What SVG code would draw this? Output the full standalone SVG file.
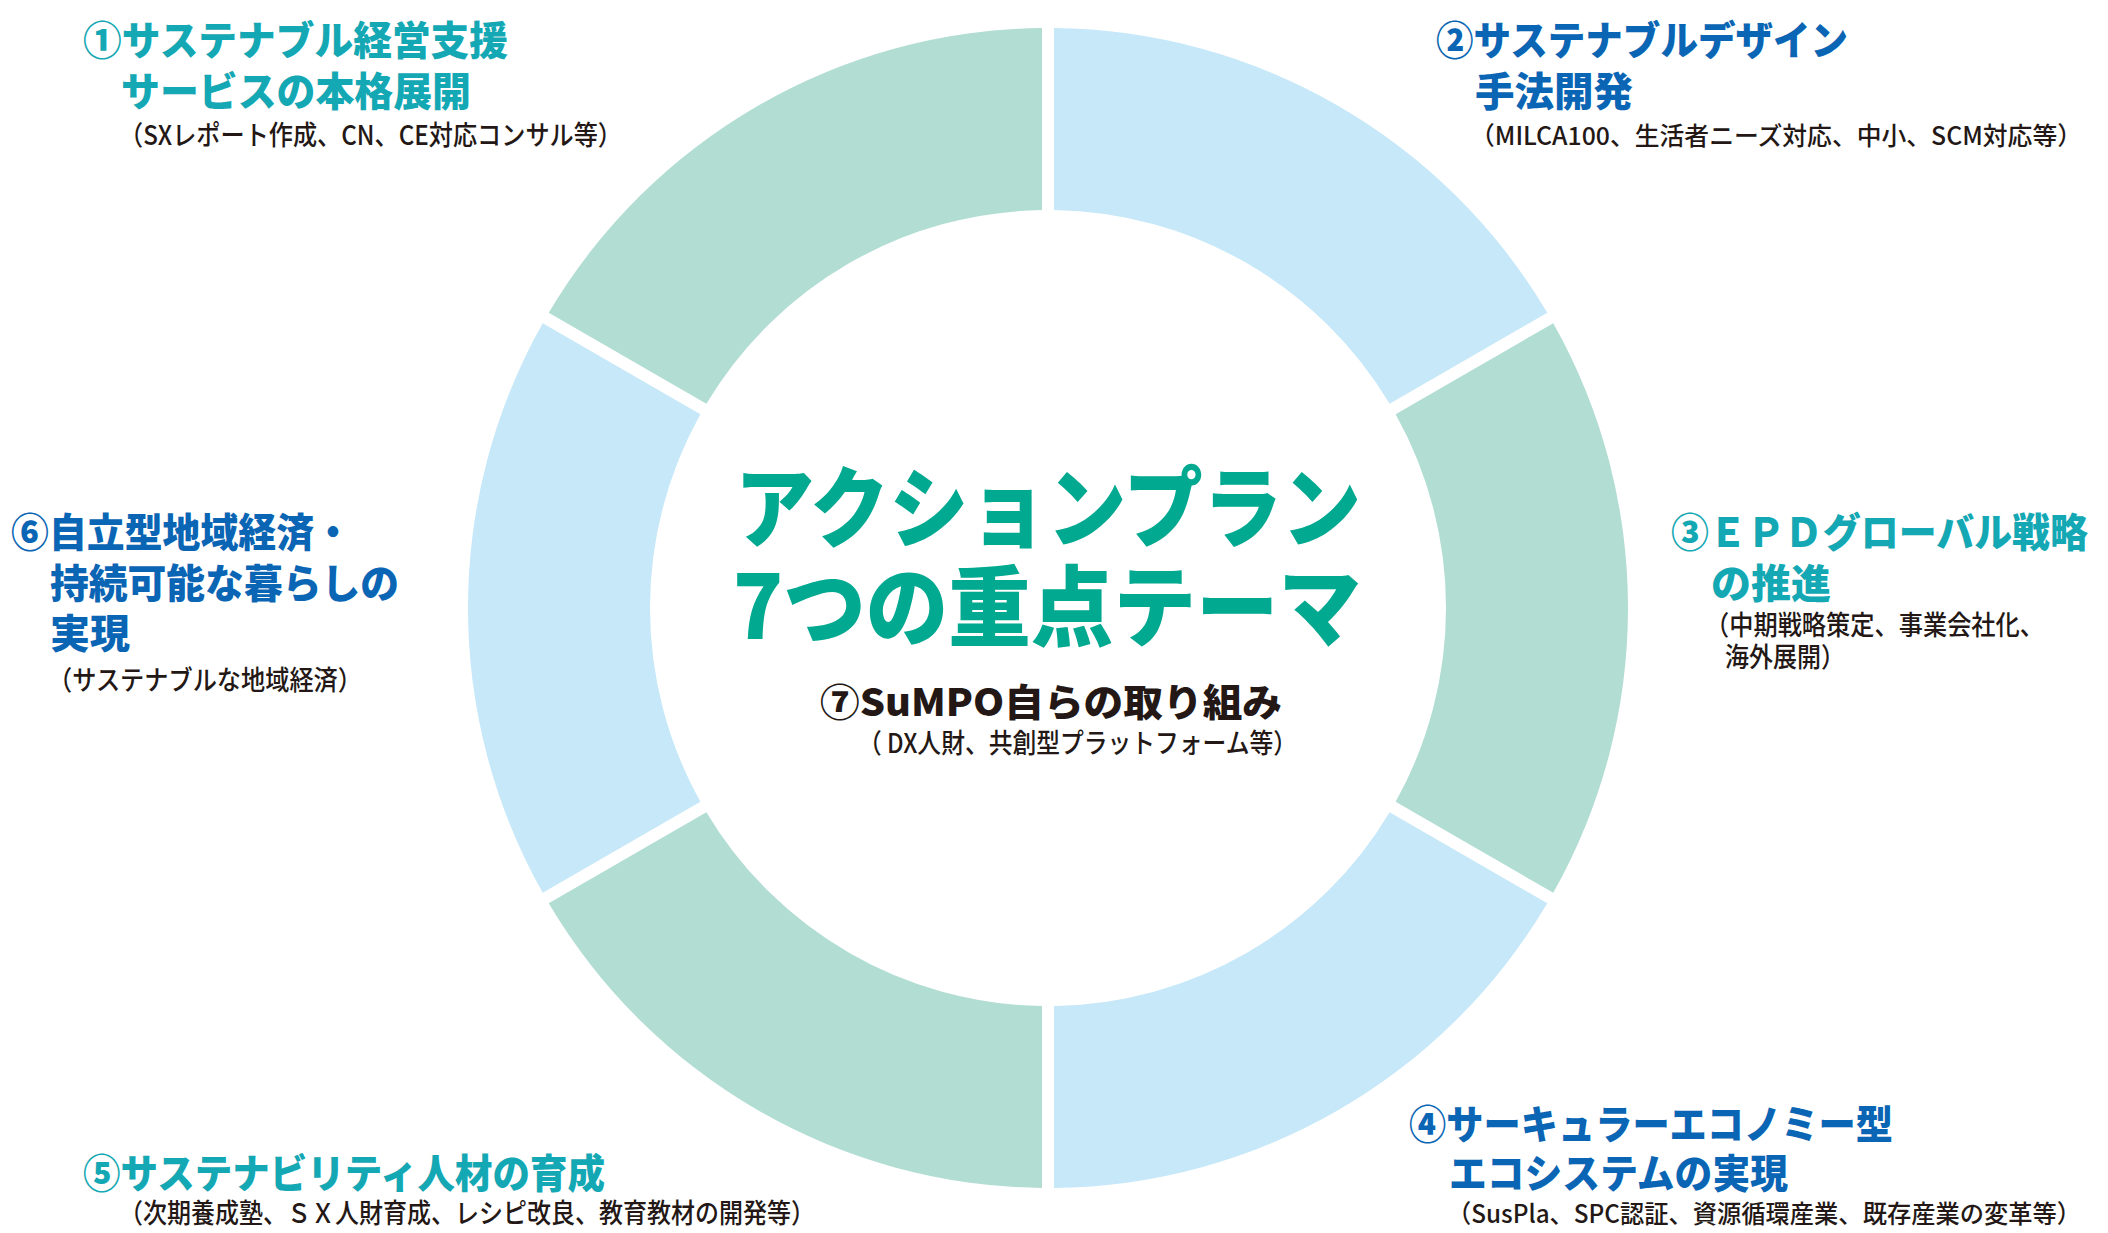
<svg xmlns="http://www.w3.org/2000/svg" width="2108" height="1233" viewBox="0 0 2108 1233">
<style>
.green{fill:#B2DDD3}
.blue{fill:#C6E8F9}
.t{font-family:"Noto Sans CJK JP","Noto Sans",sans-serif;font-weight:900;font-size:40px}
.teal{fill:#14A8B4}
.navy{fill:#0A66B4}
.sub{font-family:"Noto Sans CJK JP","Noto Sans",sans-serif;font-weight:500;font-size:27px;fill:#231815}
.sm{font-size:25px}
.big{font-family:"Noto Sans CJK JP","Noto Sans",sans-serif;font-weight:900;font-size:88px;fill:#00A98F}
.c7{font-family:"Noto Sans CJK JP","Noto Sans",sans-serif;font-weight:900;font-size:38px;fill:#231815}
</style>
<rect width="2108" height="1233" fill="#ffffff"/>
<g id="theme1">
<path class="green" d="M 548.73 312.82 A 580 580 0 0 1 1042 28.03 L 1042 210.05 A 398 398 0 0 0 706.36 403.83 Z"/>
<text class="t teal" x="83" y="55" textLength="425" lengthAdjust="spacingAndGlyphs">①サステナブル経営支援</text>
<text class="t teal" x="121" y="106" textLength="350" lengthAdjust="spacingAndGlyphs">サービスの本格展開</text>
<text class="sub" x="119" y="145" textLength="503" lengthAdjust="spacingAndGlyphs">（SXレポート作成、CN、CE対応コンサル等）</text>
</g>
<g id="theme2">
<path class="blue" d="M 1054 28.03 A 580 580 0 0 1 1547.27 312.82 L 1389.64 403.83 A 398 398 0 0 0 1054 210.05 Z"/>
<text class="t navy" x="1436" y="55" textLength="412" lengthAdjust="spacingAndGlyphs">②サステナブルデザイン</text>
<text class="t navy" x="1475" y="106" textLength="158" lengthAdjust="spacingAndGlyphs">手法開発</text>
<text class="sub sm" x="1470" y="145" textLength="612" lengthAdjust="spacingAndGlyphs">（MILCA100、生活者ニーズ対応、中小、SCM対応等）</text>
</g>
<g id="theme3">
<path class="green" d="M 1553.27 323.21 A 580 580 0 0 1 1553.27 892.79 L 1395.64 801.78 A 398 398 0 0 0 1395.64 414.22 Z"/>
<text class="t teal" x="1671" y="547" textLength="417" lengthAdjust="spacingAndGlyphs">③ＥＰＤグローバル戦略</text>
<text class="t teal" x="1711" y="598" textLength="120" lengthAdjust="spacingAndGlyphs">の推進</text>
<text class="sub" x="1705" y="635" textLength="339" lengthAdjust="spacingAndGlyphs">（中期戦略策定、事業会社化、</text>
<text class="sub" x="1725" y="667" textLength="120" lengthAdjust="spacingAndGlyphs">海外展開）</text>
</g>
<g id="theme4">
<path class="blue" d="M 1547.27 903.18 A 580 580 0 0 1 1054 1187.97 L 1054 1005.96 A 398 398 0 0 0 1389.64 812.17 Z"/>
<text class="t navy" x="1409" y="1139" textLength="484" lengthAdjust="spacingAndGlyphs">④サーキュラーエコノミー型</text>
<text class="t navy" x="1449" y="1188" textLength="339" lengthAdjust="spacingAndGlyphs">エコシステムの実現</text>
<text class="sub sm" x="1447" y="1223" textLength="634" lengthAdjust="spacingAndGlyphs">（SusPla、SPC認証、資源循環産業、既存産業の変革等）</text>
</g>
<g id="theme5">
<path class="green" d="M 1042 1187.97 A 580 580 0 0 1 548.73 903.18 L 706.36 812.17 A 398 398 0 0 0 1042 1005.96 Z"/>
<text class="t teal" x="83" y="1188" textLength="522" lengthAdjust="spacingAndGlyphs">⑤サステナビリティ人材の育成</text>
<text class="sub" x="119" y="1223" textLength="696" lengthAdjust="spacingAndGlyphs">（次期養成塾、ＳＸ人財育成、レシピ改良、教育教材の開発等）</text>
</g>
<g id="theme6">
<path class="blue" d="M 542.73 892.79 A 580 580 0 0 1 542.73 323.21 L 700.36 414.22 A 398 398 0 0 0 700.36 801.78 Z"/>
<text class="t navy" x="11" y="547" textLength="341" lengthAdjust="spacingAndGlyphs">⑥自立型地域経済・</text>
<text class="t navy" x="50" y="598" textLength="349" lengthAdjust="spacingAndGlyphs">持続可能な暮らしの</text>
<text class="t navy" x="50" y="648" textLength="80" lengthAdjust="spacingAndGlyphs">実現</text>
<text class="sub" x="48" y="690" textLength="314" lengthAdjust="spacingAndGlyphs">（サステナブルな地域経済）</text>
</g>
<g id="center-title">
<text class="big" x="735" y="540" textLength="626" lengthAdjust="spacingAndGlyphs">アクションプラン</text>
<text class="big" x="733" y="639" textLength="628" lengthAdjust="spacingAndGlyphs">7つの重点テーマ</text>
</g>
<g id="theme7">
<text class="c7" x="820" y="716" textLength="462" lengthAdjust="spacingAndGlyphs">⑦SuMPO自らの取り組み</text>
<text class="sub" x="858" y="753" textLength="439" lengthAdjust="spacingAndGlyphs">（ DX人財、共創型プラットフォーム等）</text>
</g>
<g id="connectors"/>
</svg>
